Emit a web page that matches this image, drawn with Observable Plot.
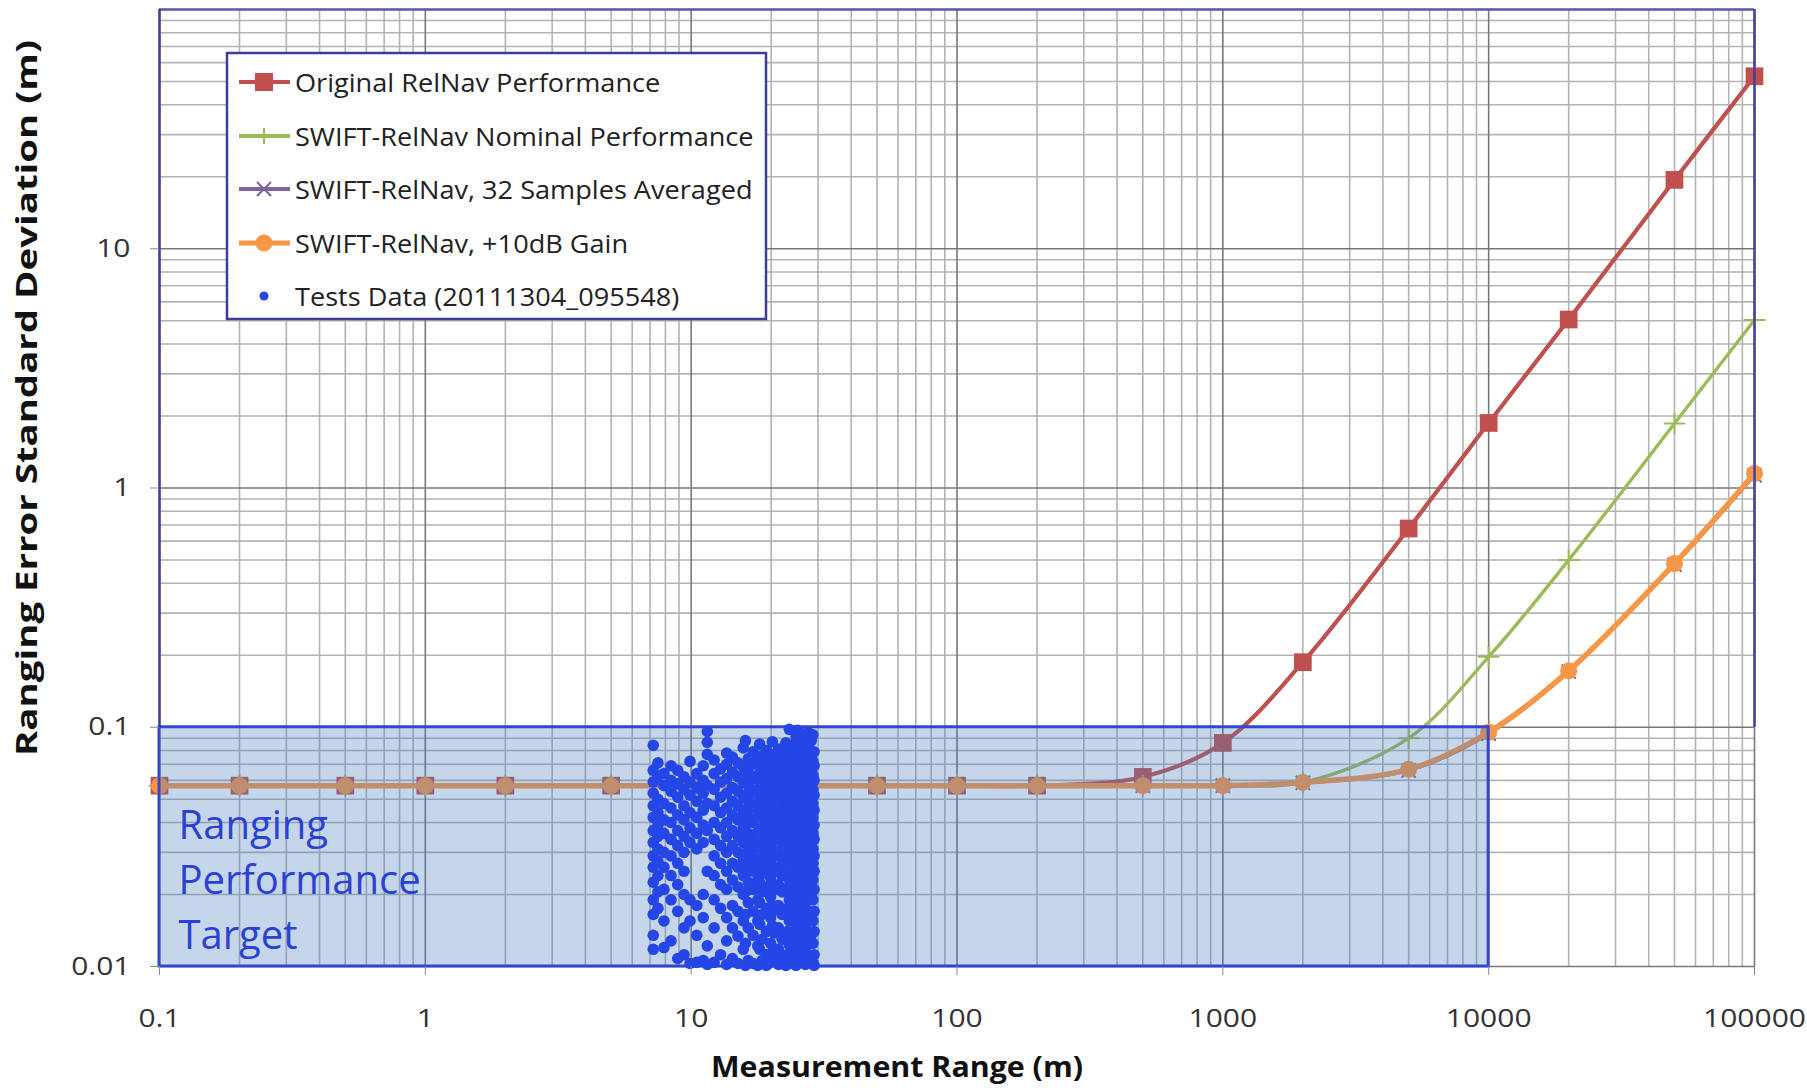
<!DOCTYPE html>
<html>
<head>
<meta charset="utf-8">
<script src="https://cdn.jsdelivr.net/npm/d3@7"></script>
<script src="https://cdn.jsdelivr.net/npm/@observablehq/plot@0.6"></script>
<style>
  html, body { margin: 0; padding: 0; background: #fff; }
  #chart { width: 1807px; height: 1088px; }
</style>
</head>
<body>
<div id="chart"></div>
<script>
// ---------- data ----------
const ranges = [0.1, 0.2, 0.5, 1, 2, 5, 10, 20, 50, 100, 200, 500, 1000, 2000, 5000, 10000, 20000, 50000, 100000];
const originalRelNav = [0.057, 0.057, 0.057, 0.057, 0.057, 0.057, 0.057, 0.057, 0.057, 0.057, 0.057, 0.062, 0.086, 0.187, 0.677, 1.87, 5.06, 19.4, 52.6];
const swiftNominal   = [0.057, 0.057, 0.057, 0.057, 0.057, 0.057, 0.057, 0.057, 0.057, 0.057, 0.057, 0.057, 0.057, 0.0588, 0.090, 0.197, 0.50, 1.86, 5.04];
const swiftAveraged  = [0.057, 0.057, 0.057, 0.057, 0.057, 0.057, 0.057, 0.057, 0.057, 0.057, 0.057, 0.057, 0.057, 0.0586, 0.066, 0.094, 0.171, 0.478, 1.13];
const swiftGain      = [0.057, 0.057, 0.057, 0.057, 0.057, 0.057, 0.057, 0.057, 0.057, 0.057, 0.057, 0.057, 0.057, 0.0588, 0.0667, 0.0953, 0.172, 0.483, 1.15];

// Test data (20111304_095548): measured range -> list of ranging errors
const testColumns = [
  [7.2,  [0.084, 0.066, 0.059, 0.053, 0.047, 0.042, 0.037, 0.033, 0.029, 0.026, 0.0225, 0.019, 0.0165, 0.0135, 0.0118]],
  [7.5,  [0.071, 0.062, 0.050, 0.044, 0.039, 0.035, 0.031, 0.0275, 0.024, 0.0205, 0.0175]],
  [7.9,  [0.064, 0.057, 0.048, 0.041, 0.036, 0.030, 0.026, 0.021, 0.0155, 0.012]],
  [8.4,  [0.069, 0.060, 0.054, 0.046, 0.040, 0.034, 0.029, 0.024, 0.019, 0.0128]],
  [8.9,  [0.066, 0.058, 0.051, 0.043, 0.037, 0.032, 0.027, 0.022, 0.017, 0.0108]],
  [9.4,  [0.062, 0.055, 0.047, 0.041, 0.035, 0.030, 0.025, 0.020, 0.0145, 0.0112]],
  [9.9,  [0.072, 0.059, 0.052, 0.044, 0.038, 0.033, 0.019, 0.0155, 0.0103]],
  [10.5, [0.064, 0.056, 0.049, 0.042, 0.036, 0.031, 0.018, 0.0135, 0.0104]],
  [11.1, [0.069, 0.060, 0.053, 0.045, 0.039, 0.033, 0.020, 0.016, 0.0106]],
  [11.5, [0.096, 0.0865, 0.077, 0.057, 0.048, 0.037, 0.025, 0.0122, 0.0102]],
  [12.2, [0.073, 0.064, 0.055, 0.047, 0.040, 0.034, 0.029, 0.024, 0.019, 0.0145, 0.0104]],
  [12.9, [0.067, 0.059, 0.051, 0.044, 0.038, 0.032, 0.027, 0.022, 0.0175, 0.0112]],
  [13.6, [0.078, 0.070, 0.061, 0.053, 0.046, 0.040, 0.035, 0.030, 0.025, 0.021, 0.016, 0.0128, 0.0102]],
  [14.3, [0.075, 0.065, 0.056, 0.049, 0.043, 0.037, 0.032, 0.027, 0.023, 0.018, 0.0145, 0.0108]],
  [15.0, [0.071, 0.062, 0.054, 0.047, 0.041, 0.035, 0.030, 0.026, 0.0215, 0.017, 0.0134, 0.0103]],
  [15.7, [0.082, 0.068, 0.059, 0.051, 0.044, 0.038, 0.033, 0.028, 0.024, 0.020, 0.0155, 0.0118]],
  [16.0, [0.088, 0.061, 0.052, 0.045, 0.039, 0.0335, 0.0285, 0.0245, 0.0205, 0.0165, 0.0125, 0.0101]],
  [16.4, [0.074, 0.065, 0.057, 0.049, 0.042, 0.036, 0.031, 0.0265, 0.0225, 0.0185, 0.0145, 0.0106]],
  [17.1, [0.079, 0.070, 0.061, 0.053, 0.046, 0.040, 0.034, 0.029, 0.025, 0.021, 0.017, 0.0135, 0.0103]],
  [17.8, [0.072, 0.063, 0.055, 0.048, 0.042, 0.0365, 0.0315, 0.027, 0.023, 0.019, 0.0155, 0.0122, 0.0101]],
  [18.1, [0.085, 0.074, 0.064, 0.056, 0.049, 0.0425, 0.0365, 0.0315, 0.027, 0.0225, 0.0185, 0.015, 0.0118]],
  [18.5, [0.076, 0.067, 0.058, 0.051, 0.044, 0.038, 0.033, 0.0285, 0.0245, 0.0205, 0.0165, 0.013, 0.0106]],
  [19.2, [0.080, 0.069, 0.060, 0.053, 0.046, 0.040, 0.0345, 0.030, 0.0255, 0.0215, 0.0175, 0.014, 0.0112, 0.0101]],
  [19.9, [0.073, 0.064, 0.056, 0.049, 0.043, 0.037, 0.032, 0.0275, 0.0235, 0.0195, 0.016, 0.0125, 0.0104]],
  [20.2, [0.087, 0.070, 0.061, 0.054, 0.047, 0.041, 0.0355, 0.0305, 0.026, 0.022, 0.018, 0.0148, 0.0115]],
  [20.6, [0.077, 0.068, 0.059, 0.052, 0.045, 0.039, 0.034, 0.029, 0.025, 0.021, 0.0172, 0.0138, 0.011]],
  [21.3, [0.081, 0.071, 0.062, 0.054, 0.047, 0.041, 0.0355, 0.0305, 0.026, 0.022, 0.018, 0.0145, 0.0118, 0.0102]],
  [22.0, [0.074, 0.065, 0.057, 0.050, 0.044, 0.038, 0.033, 0.028, 0.024, 0.0205, 0.0165, 0.013, 0.0106]],
  [22.7, [0.086, 0.078, 0.069, 0.060, 0.052, 0.045, 0.039, 0.034, 0.029, 0.025, 0.021, 0.017, 0.0136, 0.011, 0.0101]],
  [23.0, [0.082, 0.068, 0.059, 0.051, 0.045, 0.039, 0.034, 0.029, 0.025, 0.0212, 0.0175, 0.014, 0.0112]],
  [23.4, [0.098, 0.072, 0.063, 0.055, 0.048, 0.042, 0.036, 0.031, 0.027, 0.023, 0.019, 0.0155, 0.0123, 0.0103]],
  [24.1, [0.084, 0.075, 0.066, 0.058, 0.050, 0.044, 0.038, 0.033, 0.0285, 0.0245, 0.0205, 0.0165, 0.0132, 0.0107]],
  [24.8, [0.091, 0.079, 0.069, 0.060, 0.053, 0.046, 0.040, 0.035, 0.030, 0.026, 0.022, 0.018, 0.0145, 0.0116, 0.0101]],
  [25.1, [0.097, 0.078, 0.068, 0.059, 0.052, 0.045, 0.039, 0.034, 0.0295, 0.025, 0.021, 0.017, 0.0135, 0.0103]],
  [25.5, [0.083, 0.073, 0.064, 0.056, 0.049, 0.043, 0.037, 0.032, 0.0275, 0.0235, 0.0195, 0.0158, 0.0126, 0.0104]],
  [26.2, [0.094, 0.086, 0.076, 0.067, 0.059, 0.051, 0.045, 0.039, 0.034, 0.029, 0.025, 0.021, 0.017, 0.0137, 0.011]],
  [26.9, [0.092, 0.080, 0.070, 0.062, 0.054, 0.047, 0.041, 0.036, 0.031, 0.0265, 0.0225, 0.0185, 0.0148, 0.012, 0.0102]],
  [27.2, [0.087, 0.076, 0.067, 0.058, 0.051, 0.045, 0.039, 0.034, 0.029, 0.025, 0.021, 0.0172, 0.014, 0.0112]],
  [27.6, [0.095, 0.083, 0.073, 0.064, 0.056, 0.049, 0.043, 0.037, 0.032, 0.0275, 0.0235, 0.0195, 0.016, 0.013, 0.0105]],
  [28.3, [0.088, 0.077, 0.067, 0.058, 0.051, 0.044, 0.038, 0.033, 0.028, 0.024, 0.020, 0.0165, 0.0135, 0.0109]],
  [28.7, [0.093, 0.072, 0.063, 0.055, 0.048, 0.042, 0.036, 0.031, 0.027, 0.023, 0.019, 0.0155, 0.0125, 0.0104]],
  [29.0, [0.079, 0.069, 0.060, 0.052, 0.045, 0.039, 0.034, 0.029, 0.025, 0.021, 0.017, 0.014, 0.0112, 0.0101]]
];

// target box
const targetBox = [{x1: 0.1, x2: 10000, y1: 0.01, y2: 0.1}];
const targetLabel = ["Ranging\nPerformance\nTarget"];

// axes
const xTicks = [0.1, 1, 10, 100, 1000, 10000, 100000];
const xTickLabels = ["0.1", "1", "10", "100", "1000", "10000", "100000"];
const yTicks = [0.01, 0.1, 1, 10];
const yTickLabels = ["0.01", "0.1", "1", "10"];
const yMajor = [0.01, 0.1, 1, 10, 100];
const minorSteps = [2, 3, 4, 5, 6, 7, 8, 9];

const seriesNames = [
  "Original RelNav Performance",
  "SWIFT-RelNav Nominal Performance",
  "SWIFT-RelNav, 32 Samples Averaged",
  "SWIFT-RelNav, +10dB Gain",
  "Tests Data (20111304_095548)"
];
const seriesColors = ["#c0504d", "#9bbb59", "#8064a2", "#f79646", "#2446e6"];

// ---------- derived tables ----------
const toRows = (vals) => ranges.map((r, i) => ({x: r, y: vals[i]}));
const rowsOrig = toRows(originalRelNav);
const rowsNom = toRows(swiftNominal);
const rowsAvg = toRows(swiftAveraged);
const rowsGain = toRows(swiftGain);
const tests = testColumns.flatMap(([x, ys]) => ys.map(y => ({x, y})));

const xMinor = xTicks.slice(0, -1).flatMap(d => minorSteps.map(k => +(d * k).toPrecision(3)));
const yMinor = yMajor.slice(0, -1).flatMap(d => minorSteps.map(k => +(d * k).toPrecision(3)));

const FONT = "'Open Sans', 'Liberation Sans', sans-serif";

const plot = Plot.plot({
  width: 1807,
  height: 1088,
  marginLeft: 159,
  marginRight: 53,
  marginTop: 9,
  marginBottom: 122,
  style: {fontFamily: FONT, fontSize: "25px", background: "#ffffff", color: "#333"},
  x: {type: "log", domain: [0.1, 100000]},
  y: {type: "log", domain: [0.01, 100]},
  marks: [
    // grid
    Plot.ruleX(xMinor, {stroke: "#b3b3b3", strokeWidth: 1.6}),
    Plot.ruleY(yMinor, {stroke: "#b3b3b3", strokeWidth: 1.6}),
    Plot.ruleX(xTicks, {stroke: "#787878", strokeWidth: 1.6}),
    Plot.ruleY(yMajor, {stroke: "#787878", strokeWidth: 1.6}),
    // Original RelNav
    Plot.line(rowsOrig, {x: "x", y: "y", stroke: seriesColors[0], strokeWidth: 4.2, curve: "catmull-rom"}),
    Plot.dot(rowsOrig, {x: "x", y: "y", symbol: "square", r: 10, fill: seriesColors[0]}),
    // Nominal
    Plot.line(rowsNom, {x: "x", y: "y", stroke: seriesColors[1], strokeWidth: 3.4, curve: "catmull-rom"}),
    Plot.dot(rowsNom, {x: "x", y: "y", symbol: "plus", r: 7, stroke: seriesColors[1], strokeWidth: 2}),
    // 32 samples
    Plot.line(rowsAvg, {x: "x", y: "y", stroke: seriesColors[2], strokeWidth: 3.5, curve: "catmull-rom"}),
    Plot.dot(rowsAvg, {x: "x", y: "y", symbol: "times", r: 6.5, stroke: seriesColors[2], strokeWidth: 2}),
    // +10dB
    Plot.line(rowsGain, {x: "x", y: "y", stroke: seriesColors[3], strokeWidth: 5.5, curve: "catmull-rom"}),
    Plot.dot(rowsGain, {x: "x", y: "y", symbol: "circle", r: 8.5, fill: seriesColors[3]}),
    // target box (semi-transparent, above lines)
    Plot.rect(targetBox, {x1: "x1", x2: "x2", y1: "y1", y2: "y2", fill: "#4f81bd", fillOpacity: 0.32, stroke: "#3346d0", strokeWidth: 3}),
    // test data
    Plot.dot(tests, {x: "x", y: "y", r: 5.8, fill: seriesColors[4]}),
    // target label
    Plot.text(targetLabel, {frameAnchor: "bottom-left", dx: 19, dy: -90.5, lineAnchor: "middle", lineHeight: 1.375,
      textAnchor: "start", fill: "#2b41d6", fontSize: 40, fontFamily: FONT}),
    // frame
    Plot.ruleY([100], {stroke: "#5c5cb0", strokeWidth: 2.5}),
    Plot.ruleX([0.1, 100000], {y1: 0.1, y2: 100, stroke: "#3f3fa0", strokeWidth: 2.5}),
    // axes
    Plot.axisX({ticks: xTicks, tickFormat: d => xTickLabels[xTicks.indexOf(d)], tickSize: 9, tickPadding: 34,
      stroke: "#8a8a8a", fill: "#333", fontSize: 25, label: null}),
    Plot.axisY({ticks: yTicks, tickFormat: d => yTickLabels[yTicks.indexOf(d)], tickSize: 9, tickPadding: 20,
      stroke: "#8a8a8a", fill: "#333", fontSize: 25, label: null})
  ]
});

document.getElementById("chart").append(plot);

// ---------- styling pass: widen tick labels like the original ----------
const svg = d3.select(plot);
svg.selectAll('g[aria-label="x-axis tick label"] text, g[aria-label="y-axis tick label"] text').each(function () {
  const w = this.getComputedTextLength();
  this.setAttribute("textLength", (w * 1.2).toFixed(1));
  this.setAttribute("lengthAdjust", "spacingAndGlyphs");
});

// ---------- axis titles and legend (annotation layer) ----------
svg.append("text")
  .attr("x", 897).attr("y", 1065)
  .attr("text-anchor", "middle").attr("dominant-baseline", "central")
  .attr("font-family", FONT).attr("font-weight", 700).attr("font-size", 29).attr("fill", "#111")
  .attr("textLength", 372).attr("lengthAdjust", "spacingAndGlyphs")
  .text("Measurement Range (m)");

svg.append("text")
  .attr("transform", "translate(25,398) rotate(-90)")
  .attr("text-anchor", "middle").attr("dominant-baseline", "central")
  .attr("font-family", FONT).attr("font-weight", 700).attr("font-size", 29).attr("fill", "#111")
  .attr("textLength", 716).attr("lengthAdjust", "spacingAndGlyphs")
  .text("Ranging Error Standard Deviation (m)");

const lg = svg.append("g");
lg.append("rect").attr("x", 227).attr("y", 53).attr("width", 539).attr("height", 266)
  .attr("fill", "#fff").attr("stroke", "#3c3c9c").attr("stroke-width", 2.5);
const rowY = [82, 136, 189, 243, 296];
seriesNames.forEach((name, i) => {
  const y = rowY[i];
  const c = seriesColors[i];
  if (i < 4) {
    lg.append("line").attr("x1", 239).attr("x2", 290).attr("y1", y).attr("y2", y)
      .attr("stroke", c).attr("stroke-width", i === 3 ? 5 : 4);
  }
  if (i === 0) lg.append("rect").attr("x", 255).attr("y", y - 9).attr("width", 18).attr("height", 18).attr("fill", c);
  if (i === 1) lg.append("path").attr("d", `M${264 - 8},${y}H${264 + 8}M264,${y - 8}V${y + 8}`).attr("stroke", c).attr("stroke-width", 2);
  if (i === 2) lg.append("path").attr("d", `M${264 - 7},${y - 7}L${264 + 7},${y + 7}M${264 - 7},${y + 7}L${264 + 7},${y - 7}`).attr("stroke", c).attr("stroke-width", 2);
  if (i === 3) lg.append("circle").attr("cx", 264).attr("cy", y).attr("r", 8.5).attr("fill", c);
  if (i === 4) lg.append("circle").attr("cx", 264).attr("cy", y).attr("r", 4.5).attr("fill", c);
  const t = lg.append("text").attr("x", 295).attr("y", y).attr("text-anchor", "start").attr("dominant-baseline", "central")
    .attr("font-family", FONT).attr("font-size", 25).attr("fill", "#222").text(name);
  const w = t.node().getComputedTextLength();
  t.attr("textLength", (w * 1.085).toFixed(1)).attr("lengthAdjust", "spacingAndGlyphs");
});
</script>
</body>
</html>
